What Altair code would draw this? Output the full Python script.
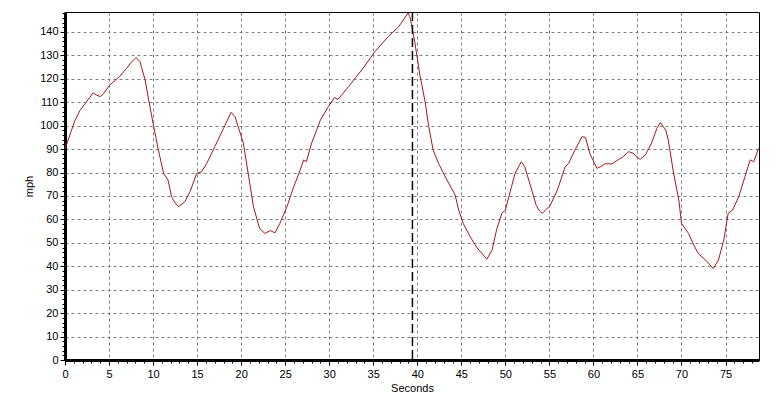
import altair as alt
import pandas as pd

seconds = [0.0, 0.6, 1.1, 1.7, 2.3, 2.8, 3.2, 3.6, 4.0, 4.4, 5.1, 6.2, 7.0, 7.5, 8.06, 8.5,
           9.1, 9.5, 10.0, 10.6, 11.2, 11.7, 12.1, 12.5, 12.9, 13.6, 14.2, 14.95, 15.5, 16.1,
           17.0, 18.0, 18.85, 19.3, 20.25, 20.8, 21.4, 22.1, 22.7, 23.3, 23.85, 24.4, 25.2,
           25.9, 26.7, 27.1, 27.4, 28.0, 29.0, 29.9, 30.6, 31.0, 32.2, 33.7, 35.2, 36.7, 37.9,
           38.8, 38.95, 39.2, 39.45, 39.7, 40.3, 40.9, 41.3, 41.8, 42.4, 43.2, 44.3, 44.7,
           45.2, 46.0, 46.8, 47.5, 47.9, 48.5, 49.0, 49.6, 50.0, 50.7, 51.1, 51.8, 52.2, 53.0,
           53.5, 53.9, 54.2, 55.1, 55.9, 56.8, 57.2, 57.9, 58.7, 59.1, 59.6, 60.4, 60.8, 61.3,
           62.1, 62.8, 63.4, 64.0, 64.5, 65.3, 65.9, 66.6, 67.2, 67.6, 68.2, 68.5, 69.1, 69.7,
           70.0, 70.8, 71.4, 71.9, 72.9, 73.6, 74.2, 74.8, 75.3, 75.8, 76.5, 77.2, 77.8, 78.2,
           78.75]
mph = [90, 96.5, 102, 106.5, 109.5, 112, 114, 113, 112.4, 113.8, 117.4, 121, 124.5, 127, 129,
       127.4, 119.5, 111, 101, 89.6, 79.6, 76.8, 69.7, 67, 65.5, 67.5, 71.8, 79.6, 80.3, 83.9,
       91, 98.8, 105.7, 103.9, 92.5, 79.6, 65.4, 56.1, 54, 55.2, 54.3, 58.3, 65.4, 73.2, 81,
       85.4, 84.6, 92.5, 102.4, 108.1, 112, 111.2, 116.7, 123.8, 131.6, 138, 142.3, 147.2,
       148.3, 146, 141, 136, 121.5, 110, 99.6, 89.6, 84, 78, 70.4, 64, 58.4, 52.6, 47.8, 44.8,
       43, 47, 55.5, 62.6, 64, 74, 79.6, 84.6, 82.5, 72.5, 66, 63.5, 62.6, 66, 72.5, 82.5, 84,
       89.6, 95.3, 95, 88, 81.8, 82.5, 83.7, 83.7, 85.4, 86.8, 88.9, 88.2, 85.6, 87.5, 92.5,
       98.8, 101.3, 98.2, 93.9, 79.7, 68.3, 58.3, 54, 49, 45.5, 42, 39, 42.7, 51.2, 62.6, 64,
       69.7, 78.2, 85.4, 84.6, 90.3]
cursor_seconds = [39.45]

x_ticks = list(range(0, 79))
y_ticks = list(range(0, 149, 2))

df = pd.DataFrame({"Seconds": seconds, "mph": mph})
cursor = pd.DataFrame({"Seconds": cursor_seconds})

FONT = "Liberation Sans"

x_scale = alt.Scale(domain=[0, 78.8], nice=False, zero=False)
y_scale = alt.Scale(domain=[0, 148.5], nice=False)

x_axis = alt.Axis(
    values=x_ticks,
    labelExpr="datum.value % 5 === 0 ? datum.label : ''",
    tickSize={"condition": {"test": "datum.value % 5 === 0", "value": 5}, "value": 3},
    gridOpacity={"condition": {"test": "datum.value % 5 === 0", "value": 1}, "value": 0},
    grid=True, gridColor="#808080", gridDash=[3, 3], gridWidth=1,
    domainColor="black", domainWidth=3, tickColor="#000000", tickWidth=1,
    labelFont=FONT, labelFontSize=11, labelColor="black", labelPadding=3,
    labelOverlap=False, labelFlush=False,
    title="Seconds", titleFont=FONT, titleFontSize=11, titleFontWeight="normal",
    titleColor="black", titlePadding=3,
)
y_axis = alt.Axis(
    values=y_ticks,
    labelExpr="datum.value % 10 === 0 ? datum.label : ''",
    tickSize={"condition": {"test": "datum.value % 10 === 0", "value": 5}, "value": 3},
    gridOpacity={"condition": {"test": "datum.value % 10 === 0", "value": 1}, "value": 0},
    grid=True, gridColor="#808080", gridDash=[3, 3], gridWidth=1,
    domainColor="black", domainWidth=3, tickColor="#000000", tickWidth=1,
    labelFont=FONT, labelFontSize=11, labelColor="black", labelPadding=2,
    labelOverlap=False, labelFlush=False,
    title="mph", titleFont=FONT, titleFontSize=11, titleFontWeight="normal",
    titleColor="black", titlePadding=5,
)

line = alt.Chart(df).mark_line(color="#A81818", strokeWidth=1, clip=True).encode(
    x=alt.X("Seconds:Q", scale=x_scale, axis=x_axis),
    y=alt.Y("mph:Q", scale=y_scale, axis=y_axis),
)

rule = alt.Chart(cursor).mark_rule(color="black", strokeWidth=1.5, strokeDash=[9, 4]).encode(
    x=alt.X("Seconds:Q", scale=x_scale, axis=x_axis),
)

chart = alt.layer(line, rule).properties(
    width=694, height=348,
    padding={"left": 57, "top": 4, "right": 10, "bottom": 36},
    autosize=alt.AutoSizeParams(type="none"),
    background="white",
).configure_view(stroke="black", strokeWidth=1)

chart.save("out.html", embed_options={"renderer": "svg", "actions": False})
